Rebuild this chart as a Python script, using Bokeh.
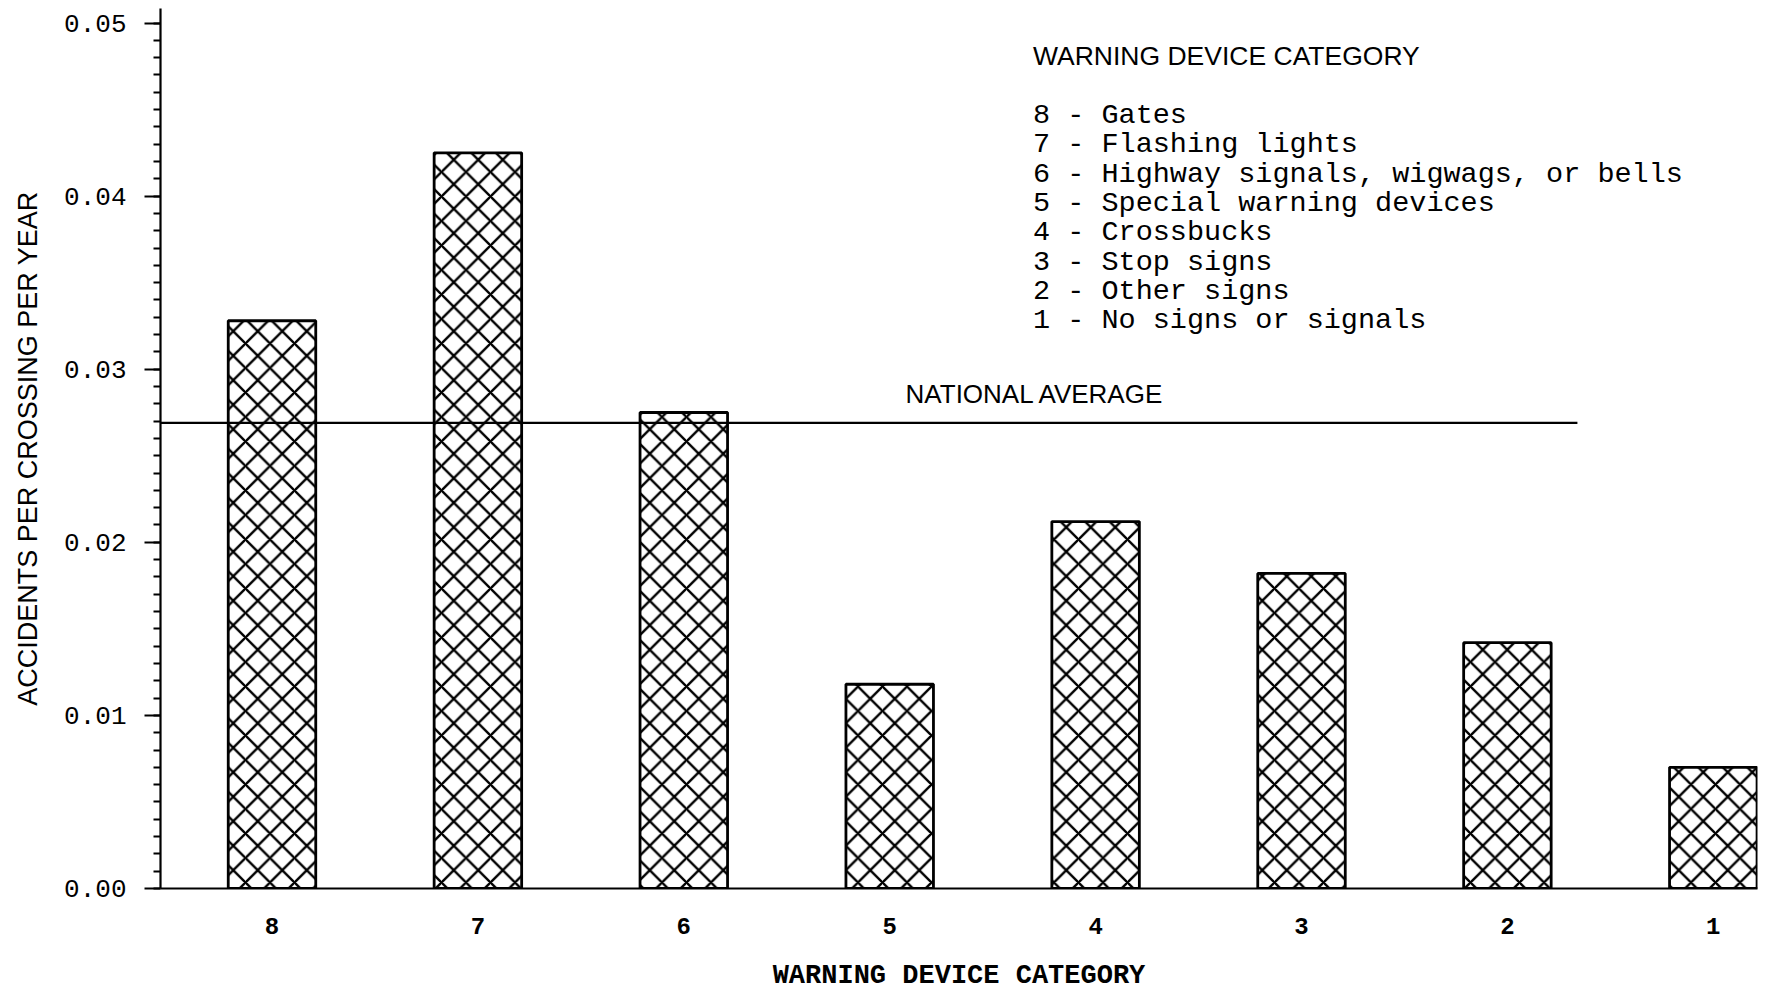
from bokeh.plotting import figure
from bokeh.models import Range1d, FixedTicker, NumeralTickFormatter, ColumnDataSource
from bokeh.core.properties import value
from bokeh.embed import file_html
from bokeh.resources import INLINE

# ---------------- data ----------------
CATEGORIES = ["8", "7", "6", "5", "4", "3", "2", "1"]
RATES = [0.0328, 0.0425, 0.0275, 0.0118, 0.0212, 0.0182, 0.0142, 0.0070]
NATIONAL_AVERAGE = 0.0269
Y_TICKS = [0.00, 0.01, 0.02, 0.03, 0.04, 0.05]
Y_MINOR_TICKS = [i / 1000 for i in range(0, 51)]
LEGEND_TITLE = "WARNING DEVICE CATEGORY"
LEGEND_ITEMS = [
    "8 - Gates",
    "7 - Flashing lights",
    "6 - Highway signals, wigwags, or bells",
    "5 - Special warning devices",
    "4 - Crossbucks",
    "3 - Stop signs",
    "2 - Other signs",
    "1 - No signs or signals",
]
X_TITLE = "WARNING DEVICE CATEGORY"
Y_TITLE = "ACCIDENTS PER CROSSING PER YEAR"
NATIONAL_LABEL = "NATIONAL AVERAGE"

# ---------------- layout constants ----------------
X_START, X_END = -0.5415, 7.2146
Y_START, Y_END = 0.0, 0.050838
BAR_WIDTH = 0.425
NAT_LINE_END = 6.34
NAT_LABEL_X, NAT_LABEL_Y = 3.077, 0.02854
LEG_X = 3.696
LEG_TITLE_Y = 0.04812
LEG_FIRST_Y = 0.04465
LEG_STEP = 0.001693

MONO = "Liberation Mono"
SANS = "Liberation Sans"

x_pos = list(range(len(CATEGORIES)))

p = figure(width=1765, height=995, output_backend="svg", toolbar_location=None,
           x_range=Range1d(X_START, X_END), y_range=Range1d(Y_START, Y_END),
           min_border_left=160, min_border_right=8, min_border_top=8,
           min_border_bottom=107)
p.outline_line_color = None
p.xgrid.visible = False
p.ygrid.visible = False
p.background_fill_color = "white"
p.border_fill_color = "white"

# bars
src = ColumnDataSource(dict(x=x_pos, top=RATES, cat=CATEGORIES))
p.vbar(x="x", top="top", bottom=0, width=BAR_WIDTH, source=src,
       fill_color="white", line_color="black", line_width=2.8,
       hatch_pattern="x", hatch_color="black", hatch_weight=2.4, hatch_scale=24.5)

# national average line
p.segment(x0=[X_START], y0=[NATIONAL_AVERAGE], x1=[NAT_LINE_END], y1=[NATIONAL_AVERAGE],
          line_color="black", line_width=2.2)
p.text(x=[NAT_LABEL_X], y=[NAT_LABEL_Y], text=[NATIONAL_LABEL],
       text_font=value(SANS), text_font_size="26px", text_color="black",
       text_baseline="middle", text_align="left")

# legend block
p.text(x=[LEG_X], y=[LEG_TITLE_Y], text=[LEGEND_TITLE],
       text_font=value(SANS), text_font_size="26.5px", text_color="black",
       text_baseline="middle", text_align="left")
leg_y = [LEG_FIRST_Y - i * LEG_STEP for i in range(len(LEGEND_ITEMS))]
p.text(x=[LEG_X] * len(LEGEND_ITEMS), y=leg_y, text=LEGEND_ITEMS,
       text_font=value(MONO), text_font_size="28.5px", text_color="black",
       text_baseline="middle", text_align="left")

# x axis
xa = p.xaxis[0]
xa.ticker = FixedTicker(ticks=x_pos)
xa.major_label_overrides = {i: c for i, c in zip(x_pos, CATEGORIES)}
xa.major_tick_out = 0
xa.major_tick_in = 0
xa.minor_tick_out = 0
xa.minor_tick_in = 0
xa.axis_line_width = 2.2
xa.axis_line_color = "black"
xa.major_label_text_font = MONO
xa.major_label_text_font_size = "24px"
xa.major_label_text_font_style = "bold"
xa.major_label_text_color = "black"
xa.major_label_standoff = 29
xa.axis_label = X_TITLE
xa.axis_label_text_font = MONO
xa.axis_label_text_font_size = "27px"
xa.axis_label_text_font_style = "bold"
xa.axis_label_text_color = "black"
xa.axis_label_standoff = 24

# y axis
ya = p.yaxis[0]
ya.ticker = FixedTicker(ticks=Y_TICKS, minor_ticks=Y_MINOR_TICKS)
ya.formatter = NumeralTickFormatter(format="0.00")
ya.major_tick_out = 16
ya.major_tick_in = 0
ya.minor_tick_out = 7
ya.minor_tick_in = 0
ya.major_tick_line_width = 2
ya.minor_tick_line_width = 2
ya.axis_line_width = 2.2
ya.axis_line_color = "black"
ya.major_label_text_font = MONO
ya.major_label_text_font_size = "26px"
ya.major_label_text_color = "black"
ya.major_label_standoff = 18
ya.axis_label = Y_TITLE
ya.axis_label_text_font = SANS
ya.axis_label_text_font_size = "27px"
ya.axis_label_text_font_style = "normal"
ya.axis_label_text_color = "black"
ya.axis_label_standoff = 18

open("out.html", "w").write(file_html(p, INLINE))
